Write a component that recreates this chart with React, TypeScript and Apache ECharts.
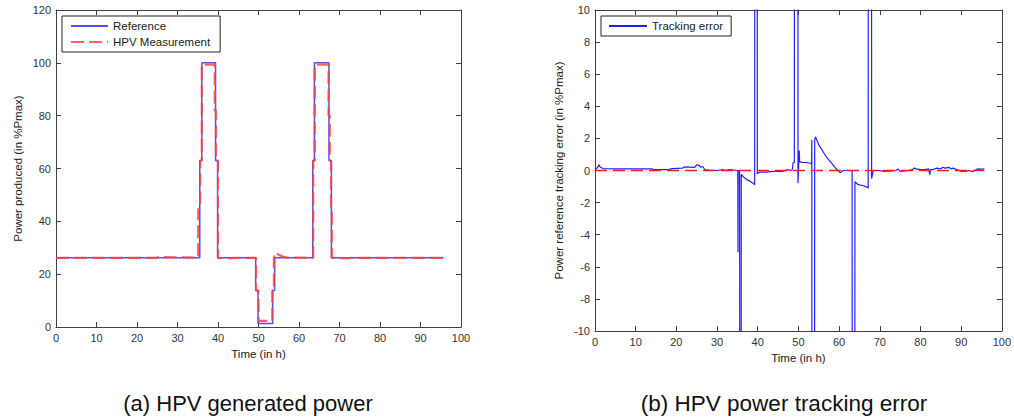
import React, { useEffect, useRef } from "react";
import * as echarts from "echarts";

// ---- Data ----
const refTime = [0, 35.5, 35.5, 36.0, 36.0, 39.4, 39.4, 39.9, 39.9, 49.3, 49.3, 49.9, 49.9, 53.5, 53.5, 54.0, 54.0, 63.4, 63.4, 63.8, 63.8, 67.4, 67.4, 68.0, 68.0, 95.7];
const refPower = [26.2, 26.2, 63, 63, 100, 100, 63, 63, 26.2, 26.2, 13.8, 13.8, 1.3, 1.3, 13.8, 13.8, 26.2, 26.2, 63, 63, 100, 100, 63, 63, 26.2, 26.2];

const measTime = [0, 25, 25.3, 35.1, 35.1, 35.6, 35.6, 36.0, 36.0, 39.2, 39.2, 39.5, 39.5, 40.0, 40.0, 43, 44, 49.4, 49.4, 50.0, 50.0, 53.4, 53.4, 53.8, 53.8, 54.1, 55, 56, 57, 63.5, 63.5, 63.9, 63.9, 67.3, 67.3, 67.6, 67.6, 67.9, 67.9, 68.1, 68.1, 72, 73, 95.7];
const measPower = [26.2, 26.2, 26.5, 26.2, 44.7, 44.7, 63, 63, 99.3, 99.3, 82, 82, 63, 63, 26.2, 26.0, 26.2, 26.2, 13.8, 13.8, 2.3, 2.3, 13.8, 13.8, 26.2, 28.2, 27.3, 26.7, 26.3, 26.2, 63, 63, 99.3, 99.3, 80, 80, 63, 63, 44.6, 44.6, 26.2, 26.0, 26.2, 26.2];

const errTime = [0, 0.5, 1.0, 1.3, 2, 5, 10, 14, 14.5, 18, 19, 21.5, 22, 24.5, 25, 25.7, 26, 26.5, 27, 28, 30, 31.5, 32, 33, 34, 35.1, 35.15, 35.2, 35.55, 35.6, 35.9, 35.95, 36.5, 37, 37.5, 38, 38.5, 39, 39.25, 39.3, 39.85, 39.9, 40.5, 42, 44, 46, 47.5, 48, 48.5, 48.7, 49.0, 49.05, 49.85, 49.9, 50.2, 50.3, 51, 52, 53, 53.25, 53.3, 53.35, 53.95, 54.0, 54.2, 55, 56, 57, 58, 59, 59.7, 60.3, 61, 63.2, 63.25, 63.85, 63.9, 64.5, 65, 66, 67, 67.15, 67.2, 67.95, 68.0, 68.4, 70, 71, 73, 74, 74.5, 75, 77, 78, 78.5, 79, 80, 81, 82, 82.3, 82.5, 83, 84, 85, 85.5, 86, 87, 87.5, 88, 89, 90, 91, 92, 92.5, 93, 94, 95, 95.7];
const errValue = [0.05, 0.15, 0.35, 0.2, 0.12, 0.1, 0.1, 0.1, 0.05, 0.05, 0.12, 0.15, 0.22, 0.2, 0.35, 0.3, 0.2, 0.25, 0.05, 0.02, 0, 0.05, 0, 0.05, 0.03, 0, -5.1, 0, 0, -30, -30, -0.25, -0.4, -0.5, -0.6, -0.65, -0.75, -0.8, -0.9, 30, 30, -0.2, -0.1, -0.1, -0.05, -0.05, 0.05, 0, 0.05, 0.5, 0.5, 30, 30, -0.8, 1.25, 0.55, 0.5, 0.5, 0.45, 0.4, 1.9, -30, -30, 1.9, 2.1, 1.6, 1.2, 0.8, 0.5, 0.2, 0, -0.15, 0, 0, -30, -30, -0.7, -0.85, -0.9, -0.95, -1.05, -1.1, 30, 30, -0.5, 0, 0, -0.05, -0.03, 0, 0.1, -0.05, 0, 0.05, 0.15, 0.1, 0.05, 0.05, 0.1, -0.25, 0.05, 0.05, 0.15, 0.1, 0.2, 0.15, 0.2, 0.1, 0.15, 0.05, -0.05, -0.05, 0, -0.05, -0.05, 0.1, 0.08, 0.1];

const zeroTime = [0, 95.7];
const zeroValue = [0, 0];

const xTicks = { min: 0, max: 100, interval: 10 };
const leftY = { min: 0, max: 120, interval: 20 };
const rightY = { min: -10, max: 10, interval: 2 };

const leftCaption = "(a) HPV generated power";
const rightCaption = "(b) HPV power tracking error";

const zip = (xs: number[], ys: number[]) => xs.map((x, i) => [x, ys[i]]);

const AXIS_COLOR = "#404040";
const LABEL_COLOR = "#333";
const FONT = "Liberation Sans, Arial, sans-serif";

function xAxisDef(gridIndex: number, position: "bottom" | "top", labels: boolean, name?: string) {
  return {
    type: "value",
    gridIndex,
    position,
    min: xTicks.min,
    max: xTicks.max,
    interval: xTicks.interval,
    name: name || "",
    nameLocation: "middle",
    nameGap: 20,
    nameTextStyle: { color: "#222", fontSize: 11.5, fontFamily: FONT },
    axisLine: { show: true, onZero: false, lineStyle: { color: AXIS_COLOR, width: 1 } },
    axisTick: { show: true, inside: true, length: 5, lineStyle: { color: AXIS_COLOR } },
    axisLabel: { show: labels, color: LABEL_COLOR, fontSize: 11, fontFamily: FONT, margin: 5 },
    splitLine: { show: false },
  };
}

function yAxisDef(gridIndex: number, position: "left" | "right", labels: boolean, range: any, name?: string, gap?: number) {
  return {
    type: "value",
    gridIndex,
    position,
    min: range.min,
    max: range.max,
    interval: range.interval,
    name: name || "",
    nameLocation: "middle",
    nameGap: gap || 30,
    nameTextStyle: { color: "#222", fontSize: 11.5, fontFamily: FONT },
    axisLine: { show: true, onZero: false, lineStyle: { color: AXIS_COLOR, width: 1 } },
    axisTick: { show: true, inside: true, length: 5, lineStyle: { color: AXIS_COLOR } },
    axisLabel: { show: labels, color: LABEL_COLOR, fontSize: 11, fontFamily: FONT, margin: 5 },
    splitLine: { show: false },
  };
}

export default function App() {
  const ref = useRef<HTMLDivElement>(null);

  useEffect(() => {
    if (!ref.current) return;
    const chart = echarts.init(ref.current, undefined, { renderer: "svg" });
    const legendBase = {
      orient: "vertical",
      top: 16,
      itemHeight: 14,
      borderColor: "#222",
      borderWidth: 1,
      backgroundColor: "#fff",
      itemStyle: { opacity: 0 },
      textStyle: { color: "#222", fontSize: 11.5, fontFamily: FONT },
    };
    const option: any = {
      animation: false,
      backgroundColor: "#ffffff",
      textStyle: { fontFamily: FONT },
      grid: [
        { left: 56, top: 10, width: 405, height: 317 },
        { left: 595, top: 10, width: 408, height: 321 },
      ],
      xAxis: [
        xAxisDef(0, "bottom", true, "Time (in h)"),
        xAxisDef(0, "top", false),
        xAxisDef(1, "bottom", true, "Time (in h)"),
        xAxisDef(1, "top", false),
      ],
      yAxis: [
        yAxisDef(0, "left", true, leftY, "Power produced (in %Pmax)", 32),
        yAxisDef(0, "right", false, leftY),
        yAxisDef(1, "left", true, rightY, "Power reference tracking error (in %Pmax)", 30),
        yAxisDef(1, "right", false, rightY),
      ],
      legend: [
        {
          ...legendBase,
          data: ["Reference", "HPV Measurement"],
          left: 62,
          itemWidth: 37,
          itemGap: 4,
          padding: [4, 10, 4, 8],
        },
        {
          ...legendBase,
          data: ["Tracking error"],
          left: 601,
          itemWidth: 38,
          padding: [4, 8, 4, 7],
        },
      ],
      series: [
        {
          name: "Reference",
          type: "line",
          xAxisIndex: 0,
          yAxisIndex: 0,
          data: zip(refTime, refPower),
          symbol: "none",
          color: "#4a4aff",
          lineStyle: { color: "#5050ff", width: 1.5 },
        },
        {
          name: "HPV Measurement",
          type: "line",
          xAxisIndex: 0,
          yAxisIndex: 0,
          data: zip(measTime, measPower),
          symbol: "none",
          color: "#ff0000",
          lineStyle: { color: "rgba(255,60,60,0.8)", width: 2.2, type: [13, 5] },
        },
        {
          name: "Tracking error",
          type: "line",
          xAxisIndex: 2,
          yAxisIndex: 2,
          data: zip(errTime, errValue),
          symbol: "none",
          color: "#1a1aff",
          clip: true,
          lineStyle: { color: "#2020ff", width: 1.2 },
        },
        {
          name: "zero",
          type: "line",
          xAxisIndex: 2,
          yAxisIndex: 2,
          data: zip(zeroTime, zeroValue),
          symbol: "none",
          color: "#ff0000",
          lineStyle: { color: "#ff1a1a", width: 1.5, type: [12, 6] },
        },
      ],
      graphic: [
        {
          type: "text",
          x: 248,
          y: 403,
          style: { text: leftCaption, fill: "#111", fontSize: 22, fontFamily: FONT, align: "center", verticalAlign: "middle" },
        },
        {
          type: "text",
          x: 784,
          y: 403,
          style: { text: rightCaption, fill: "#111", fontSize: 22.5, fontFamily: FONT, align: "center", verticalAlign: "middle" },
        },
      ],
    };
    chart.setOption(option);
    return () => chart.dispose();
  }, []);

  return (
    <div
      ref={ref}
      style={{ position: "absolute", left: 0, top: 0, width: 1014, height: 419, background: "#fff" }}
    />
  );
}
